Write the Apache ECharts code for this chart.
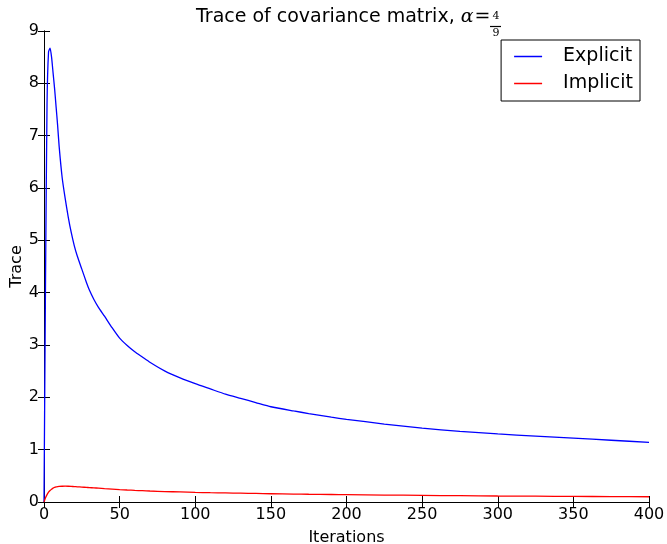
<!DOCTYPE html>
<html>
<head>
<meta charset="utf-8">
<script src="https://cdn.jsdelivr.net/npm/echarts@6/dist/echarts.min.js"></script>
<style>
  html, body { margin: 0; padding: 0; background: #fff; }
  #chart { width: 667px; height: 544px; }
</style>
</head>
<body>
<div id="chart"></div>
<script>
  // iterations sampled along the x axis
  const iterations = [0, 1, 2, 3, 4, 5, 6, 7, 8, 9, 10, 12, 14, 16, 18, 20, 22, 25, 28, 30, 33, 36, 40, 45, 50, 55,
    60, 65, 70, 80, 90, 100, 110, 120, 130, 140, 150, 165, 175, 190, 200, 225, 250, 275, 300, 325, 350, 375, 400];
  // trace of covariance matrix, explicit update
  const explicitTrace = [0, 4.2, 7.6, 8.6, 8.67, 8.5, 8.2, 7.9, 7.55, 7.2, 6.8, 6.2, 5.8, 5.45, 5.15, 4.9, 4.7, 4.45,
    4.2, 4.05, 3.87, 3.72, 3.55, 3.33, 3.13, 2.99, 2.87, 2.77, 2.67, 2.5, 2.37, 2.26, 2.16, 2.06, 1.98, 1.9, 1.82,
    1.74, 1.69, 1.62, 1.58, 1.49, 1.41, 1.35, 1.30, 1.26, 1.22, 1.18, 1.14];
  // trace of covariance matrix, implicit update
  const implicitTrace = [0, 0.08, 0.14, 0.19, 0.22, 0.245, 0.265, 0.278, 0.288, 0.294, 0.298, 0.301, 0.302, 0.301,
    0.298, 0.294, 0.29, 0.285, 0.279, 0.275, 0.27, 0.264, 0.255, 0.246, 0.237, 0.229, 0.222, 0.216, 0.21, 0.2,
    0.192, 0.184, 0.178, 0.173, 0.168, 0.163, 0.158, 0.152, 0.148, 0.143, 0.14, 0.133, 0.126, 0.12, 0.115, 0.111,
    0.107, 0.103, 0.10];

  const font = 'DejaVu Sans';
  const pairs = (ys) => iterations.map((x, i) => [x, ys[i]]);

  const tickCommon = {
    axisLine: { show: true, lineStyle: { color: '#000', width: 1 } },
    axisTick: { show: true, inside: true, length: 6, lineStyle: { color: '#000' } },
    splitLine: { show: false }
  };

  const chart = echarts.init(document.getElementById('chart'));
  chart.setOption({
    animation: false,
    textStyle: { fontFamily: font },
    title: {
      text: 'Trace of covariance matrix, {a|α}{e|=}',
      left: 196,
      top: 8,
      padding: 0,
      textStyle: {
        fontFamily: font, fontSize: 19, fontWeight: 'normal', color: '#000',
        rich: {
          a: { fontFamily: 'DejaVu Serif', fontStyle: 'italic', fontSize: 19, color: '#000' },
          e: { fontFamily: 'DejaVu Serif', fontSize: 19, color: '#000', padding: [0, 0, 0, 1] }
        }
      }
    },
    graphic: [
      { type: 'text', x: 496, y: 16, style: { text: '4', font: '11px DejaVu Serif', fill: '#000', align: 'center', verticalAlign: 'middle' } },
      { type: 'line', shape: { x1: 490, y1: 26.5, x2: 501, y2: 26.5 }, style: { stroke: '#000', lineWidth: 1.2 } },
      { type: 'text', x: 496, y: 33, z: -1, style: { text: '9', font: '11px DejaVu Serif', fill: '#000', align: 'center', verticalAlign: 'middle' } }
    ],
    legend: {
      right: 27,
      top: 40,
      orient: 'vertical',
      itemWidth: 28,
      itemHeight: 1.5,
      itemGap: 8,
      padding: [7, 7, 8, 13],
      borderColor: '#000',
      borderWidth: 1,
      borderRadius: 0,
      backgroundColor: '#fff',
      icon: 'rect',
      textStyle: { fontFamily: font, fontSize: 19, color: '#000', padding: [0, 0, 0, 16] },
      data: ['Explicit', 'Implicit']
    },
    grid: { left: 44, right: 18, top: 31, bottom: 42, outerBoundsMode: 'none' },
    xAxis: [
      Object.assign({
        type: 'value', min: 0, max: 400, interval: 50,
        name: 'Iterations', nameLocation: 'middle', nameGap: 28,
        nameTextStyle: { fontFamily: font, fontSize: 16, color: '#000' },
        axisLabel: { fontFamily: font, fontSize: 16, color: '#000', margin: 5 }
      }, tickCommon),
      Object.assign({
        type: 'value', min: 0, max: 400, interval: 50, position: 'top',
        axisLabel: { show: false }
      }, tickCommon)
    ],
    yAxis: [
      Object.assign({
        type: 'value', min: 0, max: 9, interval: 1,
        name: 'Trace', nameLocation: 'middle', nameGap: 19, nameMoveOverlap: false,
        nameTextStyle: { fontFamily: font, fontSize: 16, color: '#000' },
        axisLabel: { fontFamily: font, fontSize: 16, color: '#000', margin: 5 }
      }, tickCommon),
      Object.assign({
        type: 'value', min: 0, max: 9, interval: 1, position: 'right',
        axisLabel: { show: false }
      }, tickCommon)
    ],
    series: [
      {
        name: 'Explicit', type: 'line', data: pairs(explicitTrace),
        showSymbol: false, smooth: 0.2, color: '#0000ff',
        lineStyle: { width: 1.3, color: '#0000ff' }
      },
      {
        name: 'Implicit', type: 'line', data: pairs(implicitTrace),
        showSymbol: false, smooth: 0.2, color: '#ff0000',
        lineStyle: { width: 1.3, color: '#ff0000' }
      }
    ]
  });
</script>
</body>
</html>
